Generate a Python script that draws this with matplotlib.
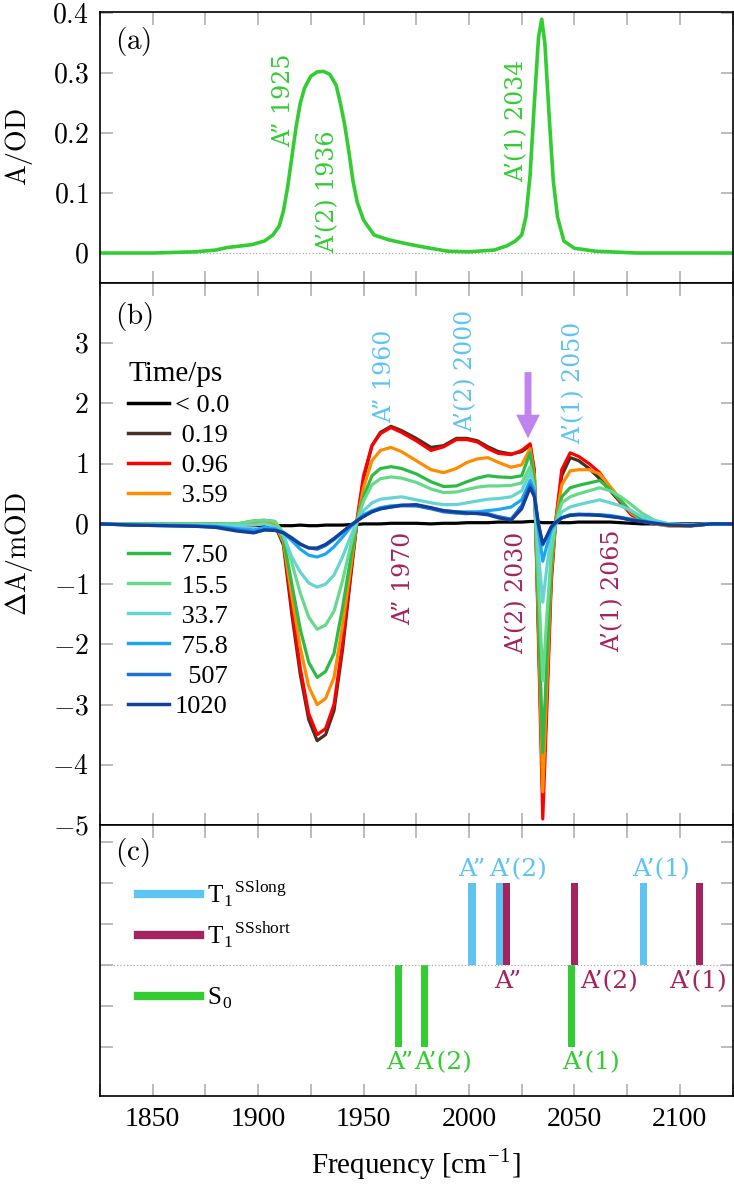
import matplotlib
matplotlib.use("Agg")
import matplotlib.pyplot as plt
from matplotlib.lines import Line2D
from matplotlib.ticker import FixedLocator, FixedFormatter, MultipleLocator

plt.rcParams['mathtext.fontset'] = 'cm'
plt.rcParams['font.family'] = 'Liberation Serif'

# (a) ground state absorbance
freq_a = [1825, 1850, 1870, 1880, 1885, 1890, 1897, 1903, 1907, 1910, 1912, 1914, 1916,
          1918, 1920, 1922, 1925, 1928, 1931, 1934, 1937, 1939, 1941, 1943, 1945, 1947,
          1950, 1955, 1962, 1971, 1980, 1990, 2000, 2012, 2018, 2022, 2025, 2027, 2029,
          2031, 2033, 2034.5, 2036, 2038, 2040, 2042, 2045, 2050, 2060, 2080, 2125]
absorb_a = [0.0, 0.0, 0.002, 0.005, 0.009, 0.011, 0.014, 0.02, 0.03, 0.045, 0.07, 0.11, 0.16,
            0.21, 0.25, 0.275, 0.295, 0.302, 0.303, 0.298, 0.28, 0.25, 0.215, 0.17, 0.12, 0.085,
            0.055, 0.03, 0.022, 0.015, 0.009, 0.003, 0.002, 0.005, 0.012, 0.02, 0.03, 0.06, 0.13,
            0.25, 0.36, 0.39, 0.35, 0.23, 0.12, 0.06, 0.02, 0.008, 0.003, 0.0, 0.0]

# (b) transient difference spectra, mOD
freq_b = [1825, 1840, 1855, 1870, 1880, 1890, 1898, 1903, 1908, 1912, 1916, 1920, 1924, 1928,
          1932, 1936, 1940, 1944, 1947, 1950, 1954, 1958, 1963, 1968, 1975, 1982, 1988, 1994,
          1999, 2004, 2009, 2014, 2020, 2025, 2029, 2031, 2033, 2035, 2037, 2039, 2041, 2044,
          2048, 2052, 2057, 2062, 2067, 2072, 2077, 2082, 2088, 2095, 2105, 2115, 2125]
dA_neg = [0.0, 0.0, -0.01, -0.01, -0.02, -0.03, -0.03, -0.02, -0.03, -0.03, -0.03, -0.02, -0.03, -0.03,
          -0.02, -0.02, -0.02, -0.01, -0.01, 0.0, 0.0, 0.0, 0.01, 0.01, 0.01, 0.0, 0.01, 0.01,
          0.02, 0.02, 0.02, 0.03, 0.03, 0.03, 0.04, 0.04, 0.03, 0.02, 0.02, 0.02, 0.02, 0.02,
          0.02, 0.03, 0.03, 0.03, 0.03, 0.02, 0.01, 0.0, 0.0, 0.0, 0.0, 0.0, 0.0]
dA_019 = [0, 0, 0, 0, 0, -0.02, 0.0, 0.0, -0.02, -0.35, -1.5, -2.5, -3.25, -3.6,
          -3.5, -3.1, -2.1, -0.85, 0.05, 0.75, 1.3, 1.52, 1.62, 1.55, 1.42, 1.27, 1.3, 1.42,
          1.42, 1.38, 1.28, 1.2, 1.16, 1.2, 1.3, 0.85, -1.8, -4.5, -2.8, -0.9, 0.0, 0.8,
          1.1, 1.05, 0.92, 0.75, 0.55, 0.35, 0.17, 0.05, 0.0, -0.02, -0.03, 0.0, 0.0]
dA_096 = [0, 0, 0, 0, 0, -0.02, 0.02, 0.03, 0.0, -0.3, -1.4, -2.4, -3.15, -3.5,
          -3.4, -3.0, -2.0, -0.8, 0.1, 0.8, 1.3, 1.5, 1.6, 1.52, 1.38, 1.22, 1.28, 1.4,
          1.4, 1.36, 1.25, 1.17, 1.15, 1.22, 1.33, 0.9, -2.0, -4.9, -3.0, -1.0, 0.0, 0.9,
          1.18, 1.12, 1.0, 0.85, 0.6, 0.35, 0.15, 0.05, 0.0, -0.03, -0.03, 0.0, 0.0]
dA_359 = [0, 0, 0, 0, 0, -0.02, 0.02, 0.03, 0.0, -0.3, -1.2, -2.05, -2.7, -3.0,
          -2.9, -2.55, -1.7, -0.7, 0.05, 0.6, 1.05, 1.22, 1.27, 1.2, 1.05, 0.9, 0.85, 0.92,
          1.02, 1.08, 1.1, 1.02, 0.94, 0.98, 1.25, 0.8, -1.7, -4.45, -2.6, -0.8, 0.0, 0.65,
          0.88, 0.9, 0.9, 0.83, 0.62, 0.4, 0.18, 0.06, 0.0, -0.04, -0.04, 0.0, 0.0]
dA_750 = [0, 0, 0, 0, 0, 0.0, 0.05, 0.06, 0.04, -0.25, -1.0, -1.75, -2.3, -2.55,
          -2.45, -2.15, -1.4, -0.55, 0.05, 0.45, 0.8, 0.92, 0.95, 0.92, 0.83, 0.7, 0.62, 0.63,
          0.7, 0.76, 0.8, 0.78, 0.77, 0.8, 1.18, 0.7, -1.5, -3.8, -2.2, -0.7, 0.0, 0.45,
          0.6, 0.64, 0.68, 0.72, 0.57, 0.38, 0.2, 0.08, 0.02, -0.02, -0.03, 0.0, 0.0]
dA_155 = [0, 0, 0, 0, 0, 0.0, 0.05, 0.06, 0.04, -0.15, -0.65, -1.15, -1.55, -1.75,
          -1.68, -1.45, -0.95, -0.35, 0.05, 0.38, 0.65, 0.75, 0.78, 0.76, 0.69, 0.58, 0.52, 0.53,
          0.57, 0.61, 0.63, 0.63, 0.64, 0.68, 0.95, 0.6, -1.0, -2.6, -1.5, -0.5, 0.0, 0.35,
          0.45, 0.5, 0.55, 0.6, 0.55, 0.45, 0.32, 0.18, 0.06, 0.0, -0.02, 0.0, 0.0]
dA_337 = [0, -0.01, -0.01, -0.02, -0.02, -0.03, -0.02, 0.0, -0.05, -0.2, -0.55, -0.8, -0.98, -1.05,
          -1.0, -0.85, -0.55, -0.2, 0.05, 0.22, 0.35, 0.41, 0.43, 0.45, 0.4, 0.35, 0.32, 0.32,
          0.35, 0.38, 0.41, 0.42, 0.45, 0.55, 0.85, 0.5, -0.5, -1.3, -0.7, -0.2, 0.0, 0.2,
          0.28, 0.32, 0.36, 0.4, 0.35, 0.3, 0.22, 0.12, 0.05, 0.0, -0.02, 0.0, 0.0]
dA_758 = [0, -0.02, -0.02, -0.03, -0.04, -0.08, -0.1, -0.06, -0.08, -0.15, -0.28, -0.42, -0.52, -0.55,
          -0.5, -0.38, -0.22, -0.05, 0.06, 0.15, 0.22, 0.27, 0.3, 0.31, 0.3, 0.26, 0.22, 0.2,
          0.2, 0.2, 0.22, 0.24, 0.28, 0.4, 0.72, 0.55, -0.1, -0.62, -0.35, -0.1, 0.0, 0.1,
          0.15, 0.16, 0.16, 0.15, 0.14, 0.11, 0.08, 0.05, 0.02, -0.02, -0.03, 0.0, 0.0]
dA_507 = [0, -0.02, -0.03, -0.04, -0.05, -0.1, -0.14, -0.1, -0.1, -0.14, -0.23, -0.33, -0.4, -0.42,
          -0.36, -0.26, -0.14, -0.02, 0.06, 0.13, 0.2, 0.25, 0.28, 0.3, 0.3, 0.25, 0.2, 0.18,
          0.17, 0.18, 0.17, 0.12, 0.08, 0.3, 0.65, 0.5, 0.0, -0.35, -0.2, -0.05, 0.02, 0.1,
          0.15, 0.16, 0.15, 0.15, 0.13, 0.1, 0.07, 0.04, 0.01, -0.02, -0.03, 0.0, 0.0]
dA_1020 = [0, -0.02, -0.03, -0.04, -0.06, -0.12, -0.15, -0.1, -0.11, -0.15, -0.24, -0.34, -0.4, -0.4,
           -0.34, -0.24, -0.13, -0.02, 0.05, 0.12, 0.2, 0.25, 0.28, 0.31, 0.32, 0.27, 0.22, 0.2,
           0.18, 0.17, 0.15, 0.1, 0.06, 0.25, 0.6, 0.45, -0.02, -0.33, -0.2, -0.05, 0.02, 0.1,
           0.14, 0.15, 0.15, 0.14, 0.12, 0.1, 0.06, 0.04, 0.01, -0.02, -0.03, 0.0, 0.0]

delay_labels = ["< 0.0", " 0.19", " 0.96", " 3.59", " 7.50", " 15.5", " 33.7", " 75.8", "  507", "1020"]
delay_data = [dA_neg, dA_019, dA_096, dA_359, dA_750, dA_155, dA_337, dA_758, dA_507, dA_1020]
delay_colors = ['#000000', '#4a3022', '#ff0000', '#ff8c00', '#2dbb45', '#66d98a',
                '#66d4d2', '#1aa8f2', '#1f72d8', '#12409a']

# (c) calculated sticks
s0_freq = [1966.4, 1979.0, 2048.6]
s0_int = [-2, -2, -2]
s0_modes = ["A”", "A’(2)", "A’(1)"]
long_freq = [2001.4, 2014.3, 2082.8]
long_int = [2, 2, 2]
long_modes = ["A”", "A’(2)", "A’(1)"]
short_freq = [2017.8, 2050.2, 2109.4]
short_int = [2, 2, 2]
short_modes = ["A”", "A’(2)", "A’(1)"]

green = '#33cc33'
sky = '#5ec4f4'
maroon = '#a3245e'
tick_gray = '#b0b0b0'
ann_font = 'DejaVu Serif'

fig = plt.figure(figsize=(7.34, 11.84), dpi=100)
L, W = 0.1362, 0.8618
ax_a = fig.add_axes([L, 0.76098, W, 0.22889])
ax_b = fig.add_axes([L, 0.30321, W, 0.45777])
ax_c = fig.add_axes([L, 0.07432, W, 0.22889])

for ax in (ax_a, ax_b, ax_c):
    ax.set_xlim(1825, 2125)
    ax.xaxis.set_major_locator(MultipleLocator(50))
    ax.xaxis.set_minor_locator(MultipleLocator(25))
    ax.tick_params(which='both', direction='in', top=True, right=True, length=9,
                   width=1.2, color=tick_gray, labelsize=20, pad=8)
    for s in ax.spines.values():
        s.set_linewidth(1.2)
ax_a.tick_params(labelbottom=False)
ax_b.tick_params(labelbottom=False)

# ---- (a)
ax_a.axhline(0, color='#aaaaaa', ls=':', lw=0.9)
ax_a.plot(freq_a, absorb_a, color=green, lw=2.6)
ax_a.set_ylim(-0.05, 0.402)
ya = [0, 0.1, 0.2, 0.3, 0.4]
ax_a.yaxis.set_major_locator(FixedLocator(ya))
ax_a.yaxis.set_major_formatter(FixedFormatter(["$0$", "$0.1$", "$0.2$", "$0.3$", "$0.4$"]))
ax_a.set_ylabel(r"$\mathrm{A/OD}$", fontsize=20)
ax_a.yaxis.set_label_coords(-0.103, 0.5)
ax_a.text(0.024, 0.89, r"$(\mathrm{a})$", transform=ax_a.transAxes, fontsize=21, va='center')
for x, y, s in [(1911.9, 0.177, "A” 1925"), (1933.2, 0.0, "A’(2) 1936"), (2022.8, 0.118, "A’(1) 2034")]:
    ax_a.text(x, y, s, rotation=90, ha='center', va='bottom', color=green, fontsize=17, family=ann_font)

# ---- (b)
for d, c, lab in zip(delay_data, delay_colors, delay_labels):
    ax_b.plot(freq_b, d, color=c, lw=2.3, label=lab)
ax_b.set_ylim(-5, 4)
yb = [-5, -4, -3, -2, -1, 0, 1, 2, 3]
ax_b.yaxis.set_major_locator(FixedLocator(yb))
ax_b.yaxis.set_major_formatter(FixedFormatter(["$%d$" % v for v in yb]))
ax_b.set_ylabel(r"$\Delta\mathrm{A/mOD}$", fontsize=20)
ax_b.yaxis.set_label_coords(-0.103, 0.5)
ax_b.text(0.024, 0.939, r"$(\mathrm{b})$", transform=ax_b.transAxes, fontsize=21, va='center')
for x, y, s in [(1959.8, 1.68, "A” 1960"), (1998.6, 1.52, "A’(2) 2000"), (2049.6, 1.32, "A’(1) 2050")]:
    ax_b.text(x, y, s, rotation=90, ha='center', va='bottom', color=sky, fontsize=17, family=ann_font)
for x, y, s in [(1969.0, -0.13, "A” 1970"), (2022.8, -0.13, "A’(2) 2030"), (2068.0, -0.10, "A’(1) 2065")]:
    ax_b.text(x, y, s, rotation=90, ha='center', va='top', color=maroon, fontsize=17, family=ann_font)
ax_b.annotate('', xy=(2028, 1.42), xytext=(2028, 2.52),
              arrowprops=dict(color='#c084f0', width=5, headwidth=17, headlength=17, lw=0))

handles = [Line2D([], [], color=c, lw=2.5) for c in delay_colors]
labels = list(delay_labels)
handles.insert(4, Line2D([], [], color='none'))
labels.insert(4, ' ')
ax_b.legend(handles, labels, loc='upper left', bbox_to_anchor=(0.045, 0.856), frameon=False,
            title='Time/ps', title_fontsize=21, fontsize=19, handlelength=1.55, handletextpad=0.2,
            labelspacing=0.25, borderaxespad=0, borderpad=0, alignment='left')

# ---- (c)
ax_c.axhline(0, color='#aaaaaa', ls=':', lw=0.9)
ax_c.bar(long_freq, long_int, width=3.4, color=sky)
ax_c.bar(short_freq, short_int, width=3.4, color=maroon)
ax_c.bar(s0_freq, s0_int, width=3.3, color=green)
ax_c.set_ylim(-3.2, 3.41)
ax_c.yaxis.set_major_locator(FixedLocator([-2, -1, 0, 1, 2, 3]))
ax_c.tick_params(labelleft=False)
ax_c.text(0.024, 0.897, r"$(\mathrm{c})$", transform=ax_c.transAxes, fontsize=21, va='center')

cfs = 18
ax_c.text(long_freq[0], 2.05, long_modes[0], color=sky, ha='center', va='bottom', fontsize=cfs, family=ann_font)
ax_c.text(2009.7, 2.05, long_modes[1], color=sky, ha='left', va='bottom', fontsize=cfs, family=ann_font)
ax_c.text(2077.6, 2.05, long_modes[2], color=sky, ha='left', va='bottom', fontsize=cfs, family=ann_font)
ax_c.text(2018.6, -0.12, short_modes[0], color=maroon, ha='center', va='top', fontsize=cfs, family=ann_font)
ax_c.text(2052.9, -0.12, short_modes[1], color=maroon, ha='left', va='top', fontsize=cfs, family=ann_font)
ax_c.text(2095.0, -0.12, short_modes[2], color=maroon, ha='left', va='top', fontsize=cfs, family=ann_font)
ax_c.text(1967.3, -2.1, s0_modes[0], color=green, ha='center', va='top', fontsize=cfs, family=ann_font)
ax_c.text(1974.0, -2.1, s0_modes[1], color=green, ha='left', va='top', fontsize=cfs, family=ann_font)
ax_c.text(2044.0, -2.1, s0_modes[2], color=green, ha='left', va='top', fontsize=cfs, family=ann_font)

leg1 = ax_c.legend([Line2D([], [], color=sky, lw=6), Line2D([], [], color=maroon, lw=6)],
                   [r"T$_\mathregular{1}{}^\mathregular{SSlong}$", r"T$_\mathregular{1}{}^\mathregular{SSshort}$"],
                   loc='upper left', bbox_to_anchor=(0.06, 0.800), frameon=False, fontsize=18,
                   handlelength=2.5, handletextpad=0.28, labelspacing=0.45, borderaxespad=0, borderpad=0)
ax_c.add_artist(leg1)
ax_c.legend([Line2D([], [], color=green, lw=6)], [r"S$_\mathregular{0}$"],
            loc='center left', bbox_to_anchor=(0.06, 0.36), frameon=False, fontsize=18,
            handlelength=2.5, handletextpad=0.28, borderaxespad=0, borderpad=0)

for t in ax_c.get_xticklabels():
    t.set_fontfamily('Liberation Serif')
ax_c.set_xlabel("Frequency [cm$^{\\mathregular{-1}}$]", fontsize=21, labelpad=10)

fig.savefig("out.png", dpi=100)
